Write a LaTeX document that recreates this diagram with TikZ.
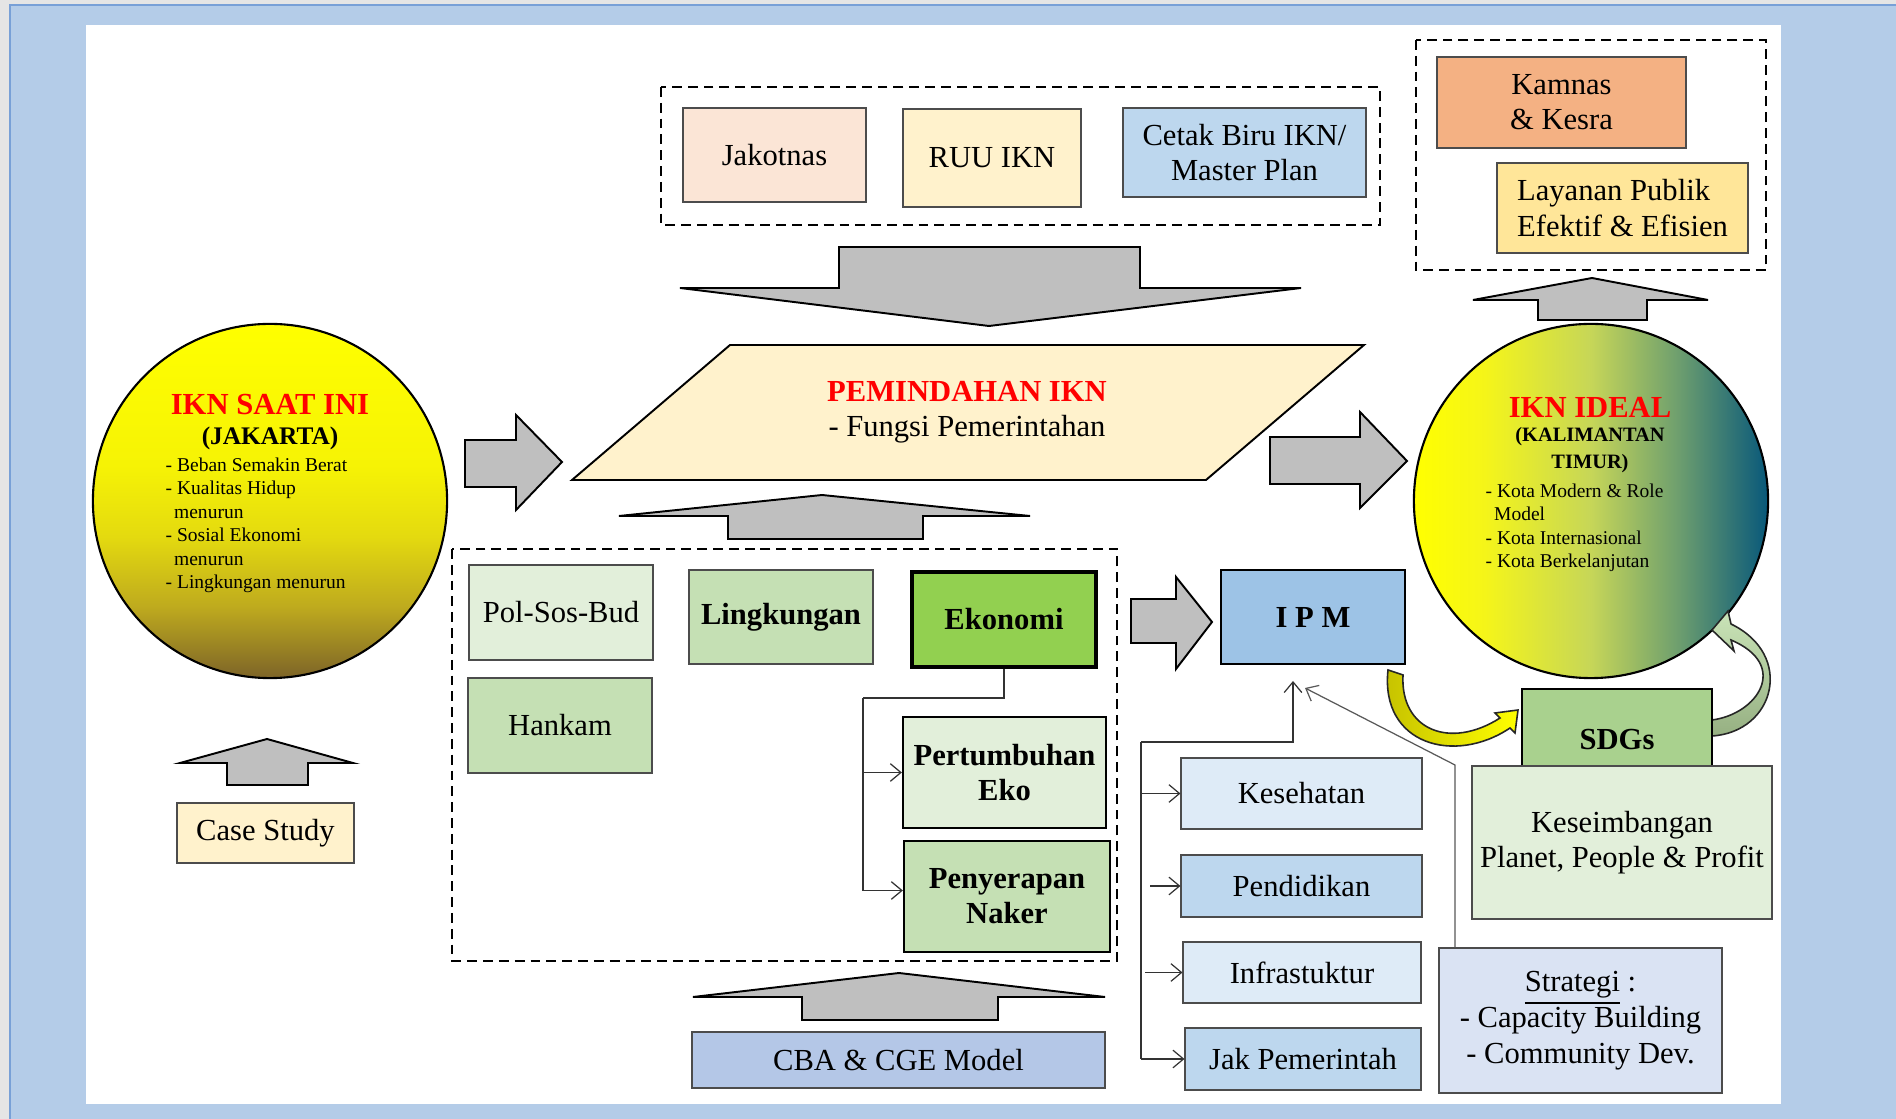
\documentclass[tikz,border=0pt]{standalone}
\usepackage{fontspec}
\setmainfont{Liberation Serif}
\usetikzlibrary{arrows.meta,calc}
\definecolor{bgblue}{RGB}{180,204,232}
\definecolor{bgline}{RGB}{120,160,215}
\definecolor{blkgray}{RGB}{191,191,191}
\definecolor{cPeach}{RGB}{251,229,214}
\definecolor{cCream}{RGB}{255,242,204}
\definecolor{cBlueL}{RGB}{189,215,238}
\definecolor{cBlueXL}{RGB}{222,235,247}
\definecolor{cIPM}{RGB}{157,195,230}
\definecolor{cGreenXL}{RGB}{226,239,218}
\definecolor{cGreenL}{RGB}{197,224,180}
\definecolor{cGreen}{RGB}{146,208,80}
\definecolor{cSDG}{RGB}{169,209,142}
\definecolor{cOrange}{RGB}{244,177,131}
\definecolor{cGold}{RGB}{255,230,153}
\definecolor{cStrat}{RGB}{218,227,243}
\definecolor{cCBA}{RGB}{180,199,231}
\definecolor{cRed}{RGB}{255,0,0}
\definecolor{jA}{RGB}{125,100,40}
\definecolor{jB}{RGB}{190,170,30}
\definecolor{jC}{RGB}{228,218,15}
\definecolor{jD}{RGB}{246,243,5}
\definecolor{jE}{RGB}{255,255,0}
\definecolor{kA}{RGB}{255,255,0}
\definecolor{kB}{RGB}{245,245,25}
\definecolor{kC}{RGB}{198,214,88}
\definecolor{kD}{RGB}{112,160,110}
\definecolor{kE}{RGB}{8,88,122}
\pgfdeclareverticalshading{jktshade}{100bp}{color(0bp)=(jA); color(25bp)=(jA); color(35bp)=(jB); color(45bp)=(jC); color(55bp)=(jD); color(75bp)=(jE); color(100bp)=(jE)}
\pgfdeclarehorizontalshading{kalshade}{100bp}{color(0bp)=(kA); color(25bp)=(kA); color(35bp)=(kB); color(50bp)=(kC); color(62bp)=(kD); color(75bp)=(kE); color(100bp)=(kE)}
\newcommand{\fmain}{\fontsize{8.7pt}{10pt}\selectfont}
\newcommand{\fsmall}{\fontsize{5.55pt}{6.69pt}\selectfont}
\tikzset{
  bx/.style={draw=black!70, line width=0.3pt, inner sep=0pt, align=center, font=\fmain},
  bxm/.style={bx, draw=black, line width=0.65pt},
  bxk/.style={bx, draw=black, line width=1.0pt},
  sz/.style 2 args={minimum width={#1*0.01cm}, minimum height={#2*0.01cm}},
  dbox/.style={draw=black, line width=0.75pt, dash pattern=on 2.8pt off 1.7pt},
  blk/.style={draw=black, line width=0.55pt, fill=blkgray, line join=miter},
  conn/.style={draw=black!80, line width=0.35pt},
  arr/.style={conn, -{Straight Barb[length=3pt,width=5pt]}},
  txt/.style={inner sep=0pt, font=\fmain},
}
\begin{document}
\begin{tikzpicture}[x=0.01cm,y=-0.01cm]
\useasboundingbox (0,0) rectangle (1896,1119);
% background
\fill[black!10] (0,0) rectangle (1896,1119);
\fill[bgblue] (10,5) rectangle (1896,1119);
\draw[bgline, line width=0.8pt] (10,1119) -- (10,5) -- (1896,5);
\fill[white] (86,25) rectangle (1781,1104);

% dashed groups
\draw[dbox] (661,87) rectangle (1380,225);
\draw[dbox] (1416,40) rectangle (1766,270);
\draw[dbox] (452,549) rectangle (1117,961);

% block arrows
\draw[blk] (839,247) -- (1140,247) -- (1140,288) -- (1301,288) -- (989,326) -- (680,288) -- (839,288) -- cycle;
\draw[blk] (822,495) -- (1030,516) -- (923,516) -- (923,539) -- (728,539) -- (728,516) -- (619,516) -- cycle;
\draw[blk] (1592,278) -- (1708,300) -- (1647,300) -- (1647,320) -- (1538,320) -- (1538,300) -- (1473,300) -- cycle;
\draw[blk] (267,739) -- (353,763) -- (308,763) -- (308,785) -- (227,785) -- (227,763) -- (180,763) -- cycle;
\draw[blk] (899,973) -- (1105,997) -- (998,997) -- (998,1020) -- (802,1020) -- (802,997) -- (693,997) -- cycle;
\draw[blk] (465,440) -- (516,440) -- (516,415) -- (562,462) -- (516,510) -- (516,487) -- (465,487) -- cycle;
\draw[blk] (1270,437) -- (1360,437) -- (1360,412) -- (1407,461) -- (1360,508) -- (1360,484) -- (1270,484) -- cycle;
\draw[blk] (1131,599) -- (1176,599) -- (1176,577) -- (1212,622) -- (1176,669) -- (1176,643) -- (1131,643) -- cycle;

% parallelogram
\draw[line width=0.55pt, fill=cCream] (730,345) -- (1364,345) -- (1206,480) -- (572,480) -- cycle;
\node[txt, align=center] (pem) at (967,412) {\textcolor{cRed}{\bfseries PEMINDAHAN IKN}\\- Fungsi Pemerintahan};

% circles
\node[circle, draw=black, line width=0.6pt, minimum size=3.54cm, inner sep=0pt, shade, shading=jktshade] (cl) at (270,501) {};
\node[txt, font=\fmain\bfseries, text=cRed] (clt) at (270,405) {IKN SAAT INI};
\node[txt, font=\fontsize{7.2pt}{8pt}\selectfont\bfseries] (clj) at (270,438) {(JAKARTA)};
\node[txt, font=\fsmall, align=left, anchor=north west] (cli) at (165,457)
  {- Beban Semakin Berat\\- Kualitas Hidup\\\hspace*{2.4pt}menurun\\- Sosial Ekonomi\\\hspace*{2.4pt}menurun\\- Lingkungan menurun};

\node[circle, draw=black, line width=0.6pt, minimum size=3.54cm, inner sep=0pt, shade, shading=kalshade] (cr) at (1591,501) {};
\node[txt, font=\fmain\bfseries, text=cRed] (crt) at (1590,407) {IKN IDEAL};
\node[txt, font=\fontsize{5.8pt}{7.7pt}\selectfont\bfseries, align=center] (crk) at (1590,450) {(KALIMANTAN\\TIMUR)};
\node[txt, font=\fsmall, align=left, anchor=north west] (cri) at (1485,483)
  {- Kota Modern \& Role\\\hspace*{2.4pt}Model\\- Kota Internasional\\- Kota Berkelanjutan};

% top boxes
\node[bx, fill=cPeach, sz={183}{94}] (jak) at (774.5,155) {Jakotnas};
\node[bx, fill=cCream, sz={178}{98}] (ruu) at (992,158) {RUU IKN};
\node[bx, fill=cBlueL, sz={243}{89}] (cetak) at (1244.5,152.5) {Cetak Biru IKN/\\Master Plan};
\node[bx, fill=cOrange, sz={249}{91}] (kam) at (1561.5,102.5) {Kamnas\\\& Kesra};
\node[bx, fill=cGold, sz={251}{90}, align=left] (lay) at (1622.5,208) {Layanan Publik\\Efektif \& Efisien};

% middle group
\node[bx, fill=cGreenXL, sz={184}{95}] (pol) at (561,612.5) {Pol-Sos-Bud};
\node[bx, fill=cGreenL, sz={184}{94}, font=\fmain\bfseries] (ling) at (781,617) {Lingkungan};
\node[bxk, fill=cGreen, sz={184}{95}, font=\fmain\bfseries] (eko) at (1004,619.5) {Ekonomi};
\node[bx, fill=cGreenL, sz={184}{95}] (han) at (560,725.5) {Hankam};
\node[bxm, fill=cGreenXL, sz={203}{111}, font=\fmain\bfseries] (pert) at (1004.5,772.5) {Pertumbuhan\\Eko};
\node[bxm, fill=cGreenL, sz={206}{111}, font=\fmain\bfseries] (peny) at (1007,896.5) {Penyerapan\\Naker};

\coordinate (ej) at (1004,698);
\coordinate (ec) at (863,698);
\draw[conn] (eko.south) -- (ej) -- (ec);
\draw[arr] (ec) |- (pert.west);
\draw[arr] (ec) |- ($(peny.west)+(0,-6)$);

% IPM and sectors
\node[bxm, fill=cIPM, sz={184}{94}, font=\fmain\bfseries] (ipm) at (1313,617) {I P M};
\node[bx, fill=cBlueXL, sz={241}{71}] (kes) at (1301.5,793.5) {Kesehatan};
\node[bx, fill=cBlueL, sz={241}{62}] (pend) at (1301.5,886) {Pendidikan};
\node[bx, fill=cBlueXL, sz={238}{61}] (infra) at (1302,972.5) {Infrastuktur};
\node[bx, fill=cBlueL, sz={236}{62}] (jakp) at (1303,1059) {Jak Pemerintah};

\coordinate (vt) at (1141,742);
\coordinate (ipmin) at (1293,681);
\draw[arr] (vt) -| (ipmin);
\draw[conn] (vt) -- (vt |- jakp.west);
\draw[arr] (vt |- kes.west) -- (kes.west);
\draw[arr] ($(vt |- pend.west)+(9,0)$) -- (pend.west);
\draw[arr] ($(vt |- infra.west)+(4,0)$) -- (infra.west);
\draw[arr] (vt |- jakp.west) -- (jakp.west);

% curved arrows
\draw[line width=0.45pt, draw=black!85, left color={rgb,255:red,196;green,192;blue,0}, right color=yellow]
  (1403,675) .. controls (1400,730) and (1450,750) .. (1500,718) -- (1495,713) -- (1518,710)
  -- (1515,733) -- (1510,728) .. controls (1455,765) and (1380,745) .. (1388,670) -- cycle;
\draw[line width=0.45pt, draw=black!85, top color={rgb,255:red,202;green,228;blue,184}, bottom color={rgb,255:red,150;green,176;blue,130}]
  (1712,736) .. controls (1775,732) and (1795,655) .. (1731,624) -- (1728,611) -- (1712,630)
  -- (1734,651) -- (1731,640) .. controls (1790,665) and (1758,714) .. (1712,720) -- cycle;

% SDGs and others
\node[bxm, fill=cSDG, sz={190}{101}, font=\fmain\bfseries] (sdg) at (1617,739.5) {SDGs};
\node[bx, fill=cGreenXL, sz={300}{153}] (kes2) at (1622,842.5) {Keseimbangan\\Planet, People \& Profit};
\node[bx, fill=cStrat, sz={283}{145}, font=\fontsize{8.7pt}{10.2pt}\selectfont] (strat) at (1580.5,1020.5) {\underline{Strategi} :\\- Capacity Building\\- Community Dev.};
\coordinate (sb) at (1455,765);
\coordinate (ipmin2) at (1305,688);
\draw[arr, draw=black!65] (strat.north -| sb) -- (sb) -- (ipmin2);

% bottom boxes
\node[bx, fill=cCream, sz={177}{60}] (case) at (265.5,833) {Case Study};
\node[bx, fill=cCBA, sz={413}{56}] (cba) at (898.5,1060) {CBA \& CGE Model};
\end{tikzpicture}
\end{document}
